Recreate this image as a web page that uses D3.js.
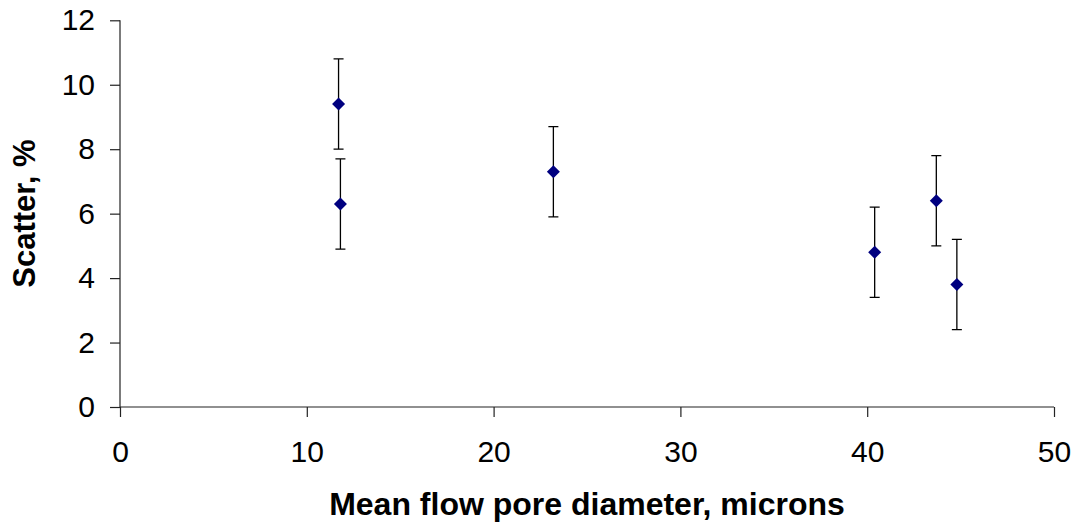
<!DOCTYPE html>
<html>
<head>
<meta charset="utf-8">
<script src="https://cdn.jsdelivr.net/npm/d3@7"></script>
<style>
  html, body { margin: 0; padding: 0; background: #fff; }
  svg { display: block; font-family: "Liberation Sans", Arial, sans-serif; }
</style>
</head>
<body>
<svg id="chart" width="1076" height="526"></svg>
<script>
// Mean flow pore diameter (microns) vs. scatter (%) with error bars
const poreDiameter = [11.7, 11.8, 23.2, 40.4, 43.7, 44.8];
const scatterPct   = [9.4, 6.3, 7.3, 4.8, 6.4, 3.8];
const errorPct     = [1.4, 1.4, 1.4, 1.4, 1.4, 1.4];

const xTicks = [0, 10, 20, 30, 40, 50];
const yTicks = [0, 2, 4, 6, 8, 10, 12];

const xTitle = "Mean flow pore diameter, microns";
const yTitle = "Scatter, %";

const svg = d3.select("#chart");

const plot = { left: 120, right: 1054, top: 20.3, bottom: 407 };

const x = d3.scaleLinear().domain([0, 50]).range([plot.left, plot.right]);
const y = d3.scaleLinear().domain([0, 12]).range([plot.bottom, plot.top]);

// Y axis
const yAxis = d3.axisLeft(y)
  .tickValues(yTicks)
  .tickSize(10)
  .tickPadding(15)
  .tickFormat(d3.format("d"));

svg.append("g")
  .attr("transform", `translate(${plot.left},0)`)
  .call(yAxis)
  .call(g => g.select(".domain").attr("d", `M0,${plot.top}V${plot.bottom}`))
  .call(g => g.selectAll("line, path").attr("stroke", "#222").attr("stroke-width", 1.2))
  .call(g => g.selectAll("text")
    .attr("font-size", 30)
    .attr("font-family", "Liberation Sans, Arial, sans-serif")
    .attr("fill", "#000"));

// X axis
const xAxis = d3.axisBottom(x)
  .tickValues(xTicks)
  .tickSize(10)
  .tickPadding(24)
  .tickFormat(d3.format("d"));

svg.append("g")
  .attr("transform", `translate(0,${plot.bottom})`)
  .call(xAxis)
  .call(g => g.select(".domain").attr("d", `M${plot.left},0H${plot.right}`))
  .call(g => g.selectAll("line, path").attr("stroke", "#222").attr("stroke-width", 1.2))
  .call(g => g.selectAll("text")
    .attr("font-size", 30)
    .attr("font-family", "Liberation Sans, Arial, sans-serif")
    .attr("fill", "#000"));

// Axis titles
svg.append("text")
  .attr("x", (plot.left + plot.right) / 2)
  .attr("y", 515)
  .attr("text-anchor", "middle")
  .attr("font-size", 32)
  .attr("font-weight", "bold")
  .text(xTitle);

svg.append("text")
  .attr("transform", `translate(35,${(plot.top + plot.bottom) / 2}) rotate(-90)`)
  .attr("text-anchor", "middle")
  .attr("font-size", 31)
  .attr("font-weight", "bold")
  .text(yTitle);

// Data
const points = poreDiameter.map((d, i) => ({ x: d, y: scatterPct[i], e: errorPct[i] }));

const capHalf = 5;
const bars = svg.append("g").attr("stroke", "#000").attr("stroke-width", 1.3).attr("fill", "none");

bars.selectAll("path.err")
  .data(points)
  .join("path")
  .attr("class", "err")
  .attr("d", d => {
    const cx = x(d.x), y1 = y(d.y + d.e), y0 = y(d.y - d.e);
    return `M${cx},${y1}V${y0}` +
           `M${cx - capHalf},${y1}H${cx + capHalf}` +
           `M${cx - capHalf},${y0}H${cx + capHalf}`;
  });

const r = 6.5;
svg.append("g")
  .selectAll("path.pt")
  .data(points)
  .join("path")
  .attr("class", "pt")
  .attr("fill", "#000080")
  .attr("d", d => {
    const cx = x(d.x), cy = y(d.y);
    return `M${cx},${cy - r}L${cx + r},${cy}L${cx},${cy + r}L${cx - r},${cy}Z`;
  });
</script>
</body>
</html>
